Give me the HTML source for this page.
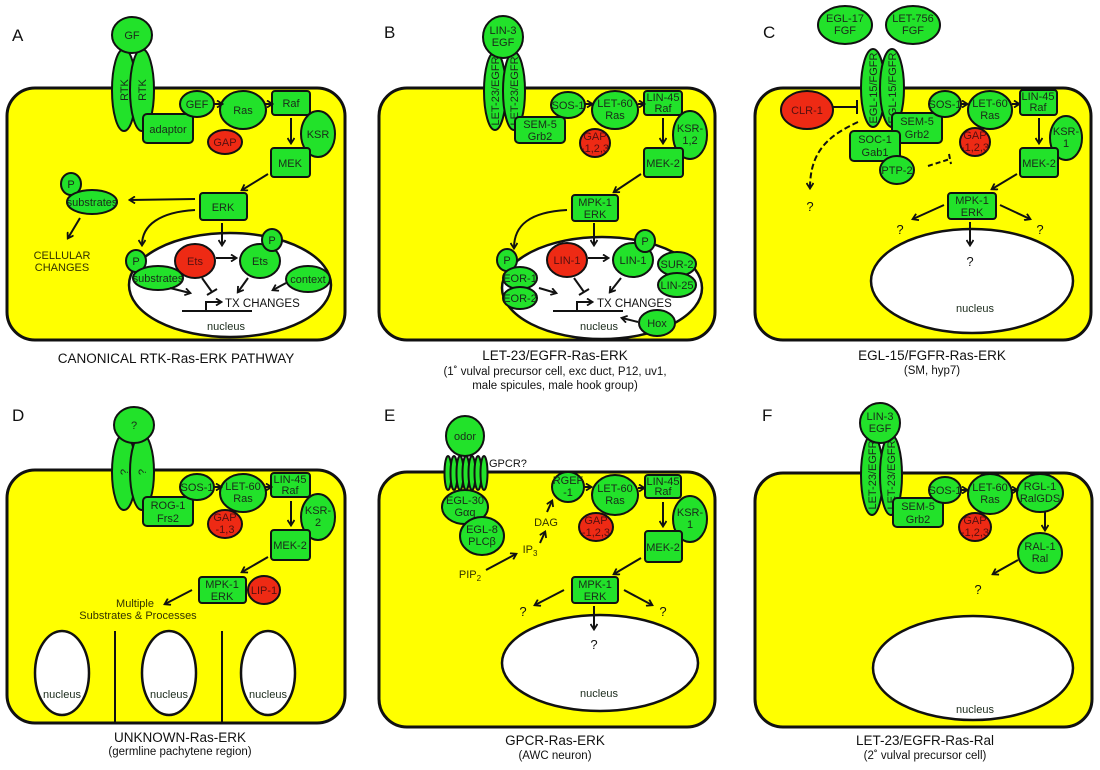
<!DOCTYPE html>
<html><head><meta charset="utf-8"><style>
html,body{margin:0;padding:0;background:#fff}
svg{display:block;font-family:"Liberation Sans",Arial,sans-serif}
.cell{fill:#ffff00;stroke:#111;stroke-width:3}
.g{fill:#22e22a;stroke:#111;stroke-width:2}
.r{fill:#ee2a14;stroke:#111;stroke-width:2}
.n{fill:#fff;stroke:#111;stroke-width:2.5}
.t{font-size:11px;fill:#1a2a1a;text-anchor:middle}
.tr{font-size:11px;fill:#551010;text-anchor:middle}
.ti{font-size:13.5px;fill:#111;text-anchor:middle}
.st{font-size:11.5px;fill:#111;text-anchor:middle}
.pl{font-size:17px;fill:#111}
.q{font-size:13px;fill:#111;text-anchor:middle}
.y{font-size:11px;fill:#333300;text-anchor:middle}
.a{fill:none;stroke:#111;stroke-width:2;marker-end:url(#ah)}
.i{fill:none;stroke:#111;stroke-width:2}
</style></head><body>
<svg width="1100" height="770" viewBox="0 0 1100 770">
<defs><marker id="ah" markerWidth="8" markerHeight="8" refX="6" refY="4" orient="auto" markerUnits="userSpaceOnUse"><path d="M1,0.5 L6.5,4 L1,7.5" fill="none" stroke="#111" stroke-width="1.8"/></marker></defs>

<!-- PANEL A -->
<g>
<text x="12" y="41" class="pl">A</text>
<rect x="7" y="88" width="338" height="252" rx="28" class="cell"/>
<ellipse cx="124" cy="90" rx="12" ry="41" class="g"/><text transform="translate(128,90) rotate(-90)" class="t">RTK</text>
<ellipse cx="142" cy="90" rx="12" ry="41" class="g"/><text transform="translate(146,90) rotate(-90)" class="t">RTK</text>
<ellipse cx="132" cy="35" rx="20" ry="18" class="g"/><text x="132" y="39" class="t">GF</text>
<rect x="143" y="114" width="50" height="29" rx="4" class="g"/><text x="168" y="133" class="t">adaptor</text>
<ellipse cx="197" cy="104" rx="17" ry="13" class="g"/><text x="197" y="108" class="t">GEF</text>
<ellipse cx="243" cy="110" rx="23" ry="19" class="g"/><text x="243" y="114" class="t">Ras</text>
<ellipse cx="225" cy="142" rx="17" ry="12" class="r"/><text x="225" y="146" class="tr">GAP</text>
<rect x="272" y="91" width="38" height="24" rx="3" class="g"/><text x="291" y="107" class="t">Raf</text>
<ellipse cx="318" cy="134" rx="17" ry="23" class="g"/><text x="318" y="138" class="t">KSR</text>
<rect x="271" y="148" width="39" height="29" rx="3" class="g"/><text x="290" y="167" class="t">MEK</text>
<rect x="200" y="193" width="47" height="27" rx="3" class="g"/><text x="223" y="211" class="t">ERK</text>
<path d="M213,104 L222,104" class="a"/><path d="M265,104 L272,104" class="a"/><path d="M291,118 L291,143" class="a"/><path d="M268,174 L242,190" class="a"/>
<path d="M195,199 L130,200" class="a"/>
<ellipse cx="71" cy="184" rx="10" ry="11" class="g"/><text x="71" y="188" class="t">P</text>
<ellipse cx="92" cy="202" rx="25" ry="12" class="g"/><text x="92" y="206" class="t">substrates</text>
<path d="M80,218 L68,238" class="a"/>
<text x="62" y="259" class="y">CELLULAR</text><text x="62" y="271" class="y">CHANGES</text>
<ellipse cx="230" cy="285" rx="101" ry="52" class="n"/>
<path d="M195,210 C160,212 142,225 142,245" class="a"/><path d="M222,223 L222,245" class="a"/>
<ellipse cx="136" cy="261" rx="10" ry="11" class="g"/><text x="136" y="265" class="t">P</text>
<ellipse cx="158" cy="278" rx="25" ry="12" class="g"/><text x="158" y="282" class="t">substrates</text>
<ellipse cx="195" cy="261" rx="20" ry="17" class="r"/><text x="195" y="265" class="tr">Ets</text>
<ellipse cx="260" cy="261" rx="20" ry="17" class="g"/><text x="260" y="265" class="t">Ets</text>
<ellipse cx="272" cy="240" rx="10" ry="11" class="g"/><text x="272" y="244" class="t">P</text>
<ellipse cx="308" cy="279" rx="22" ry="13" class="g"/><text x="308" y="283" class="t">context</text>
<path d="M216,258 L236,258" class="a"/><path d="M170,288 L190,293" class="a"/><path d="M202,278 L212,292 M207,295 L217,289" class="i"/><path d="M248,278 L238,292" class="a"/><path d="M286,283 L273,290" class="a"/>
<path d="M182,311 L252,311 M206,311 L206,302 L220,302" class="i"/><path d="M214,302 L221,302" class="a"/>
<text x="225" y="307" font-size="11.5" fill="#111">TX CHANGES</text>
<text x="226" y="330" class="t" fill="#111">nucleus</text>
<text x="176" y="363" class="ti">CANONICAL RTK-Ras-ERK PATHWAY</text>
</g>

<!-- PANEL B -->
<g>
<text x="384" y="38" class="pl">B</text>
<rect x="379" y="88" width="336" height="252" rx="28" class="cell"/>
<ellipse cx="495" cy="91" rx="11" ry="39" class="g"/><text transform="translate(499,91) rotate(-90)" class="t" font-size="10">LET-23/EGFR</text>
<ellipse cx="514" cy="91" rx="11" ry="39" class="g"/><text transform="translate(518,91) rotate(-90)" class="t" font-size="10">LET-23/EGFR</text>
<ellipse cx="503" cy="37" rx="20" ry="21" class="g"/><text x="503" y="34" class="t">LIN-3</text><text x="503" y="46" class="t">EGF</text>
<rect x="515" y="117" width="50" height="26" rx="4" class="g"/><text x="540" y="128" class="t">SEM-5</text><text x="540" y="140" class="t">Grb2</text>
<ellipse cx="568" cy="105" rx="17" ry="13" class="g"/><text x="568" y="109" class="t">SOS-1</text>
<ellipse cx="615" cy="110" rx="23" ry="19" class="g"/><text x="615" y="107" class="t">LET-60</text><text x="615" y="119" class="t">Ras</text>
<ellipse cx="595" cy="143" rx="15" ry="14" class="r"/><text x="595" y="140" class="tr">GAP</text><text x="595" y="152" class="tr">-1,2,3</text>
<rect x="644" y="91" width="38" height="24" rx="3" class="g"/><text x="663" y="101" class="t">LIN-45</text><text x="663" y="112" class="t">Raf</text>
<ellipse cx="690" cy="135" rx="17" ry="24" class="g"/><text x="690" y="132" class="t">KSR-</text><text x="690" y="144" class="t">1,2</text>
<rect x="644" y="148" width="39" height="29" rx="3" class="g"/><text x="663" y="167" class="t">MEK-2</text>
<rect x="572" y="195" width="46" height="26" rx="3" class="g"/><text x="595" y="206" class="t">MPK-1</text><text x="595" y="218" class="t">ERK</text>
<path d="M585,104 L592,104" class="a"/><path d="M638,104 L644,104" class="a"/><path d="M663,118 L663,143" class="a"/><path d="M641,174 L614,192" class="a"/>
<ellipse cx="602" cy="288" rx="100" ry="51" class="n"/>
<path d="M567,210 C530,212 514,225 514,248" class="a"/><path d="M594,223 L594,245" class="a"/>
<ellipse cx="507" cy="260" rx="10" ry="11" class="g"/><text x="507" y="264" class="t">P</text>
<ellipse cx="520" cy="278" rx="17" ry="11" class="g"/><text x="520" y="282" class="t">EOR-1</text>
<ellipse cx="520" cy="298" rx="17" ry="11" class="g"/><text x="520" y="302" class="t">EOR-2</text>
<ellipse cx="567" cy="260" rx="20" ry="17" class="r"/><text x="567" y="264" class="tr">LIN-1</text>
<ellipse cx="633" cy="260" rx="20" ry="17" class="g"/><text x="633" y="264" class="t">LIN-1</text>
<ellipse cx="645" cy="241" rx="10" ry="11" class="g"/><text x="645" y="245" class="t">P</text>
<ellipse cx="677" cy="264" rx="19" ry="12" class="g"/><text x="677" y="268" class="t">SUR-2</text>
<ellipse cx="677" cy="285" rx="19" ry="12" class="g"/><text x="677" y="289" class="t">LIN-25</text>
<ellipse cx="657" cy="323" rx="18" ry="13" class="g"/><text x="657" y="327" class="t">Hox</text>
<path d="M588,258 L608,258" class="a"/><path d="M539,288 L556,293" class="a"/><path d="M574,278 L584,292 M579,295 L589,289" class="i"/><path d="M621,278 L610,292" class="a"/><path d="M638,322 L622,318" class="a"/>
<path d="M553,311 L623,311 M577,311 L577,302 L591,302" class="i"/><path d="M585,302 L592,302" class="a"/>
<text x="597" y="307" font-size="11.5" fill="#111">TX CHANGES</text>
<text x="599" y="330" class="t" fill="#111">nucleus</text>
<text x="555" y="360" class="ti">LET-23/EGFR-Ras-ERK</text>
<text x="555" y="375" class="st">(1˚ vulval precursor cell, exc duct, P12, uv1,</text>
<text x="555" y="389" class="st">male spicules, male hook group)</text>
</g>

<!-- PANEL C -->
<g>
<text x="763" y="38" class="pl">C</text>
<rect x="755" y="88" width="336" height="252" rx="28" class="cell"/>
<ellipse cx="845" cy="25" rx="27" ry="19" class="g"/><text x="845" y="22" class="t">EGL-17</text><text x="845" y="34" class="t">FGF</text>
<ellipse cx="913" cy="25" rx="27" ry="19" class="g"/><text x="913" y="22" class="t">LET-756</text><text x="913" y="34" class="t">FGF</text>
<ellipse cx="873" cy="88" rx="12" ry="39" class="g"/><text transform="translate(877,88) rotate(-90)" class="t" font-size="10">EGL-15/FGFR</text>
<ellipse cx="892" cy="88" rx="12" ry="39" class="g"/><text transform="translate(896,88) rotate(-90)" class="t" font-size="10">EGL-15/FGFR</text>
<ellipse cx="807" cy="110" rx="26" ry="19" class="r"/><text x="807" y="114" class="tr">CLR-1</text>
<path d="M833,107 L857,107 M857,100 L857,114" class="i"/>
<rect x="892" y="113" width="50" height="30" rx="4" class="g"/><text x="917" y="125" class="t">SEM-5</text><text x="917" y="138" class="t">Grb2</text>
<rect x="850" y="131" width="50" height="30" rx="4" class="g"/><text x="875" y="143" class="t">SOC-1</text><text x="875" y="156" class="t">Gab1</text>
<ellipse cx="897" cy="170" rx="17" ry="14" class="g"/><text x="897" y="174" class="t">PTP-2</text>
<path d="M928,166 L950,159 M949,154 L951,164" class="i" stroke-dasharray="5,3"/>
<path d="M858,122 C830,135 810,150 810,188" class="a" stroke-dasharray="6,3"/>
<text x="810" y="211" class="q">?</text>
<ellipse cx="945" cy="104" rx="16" ry="13" class="g"/><text x="945" y="108" class="t">SOS-1</text>
<ellipse cx="990" cy="110" rx="22" ry="19" class="g"/><text x="990" y="107" class="t">LET-60</text><text x="990" y="119" class="t">Ras</text>
<ellipse cx="975" cy="142" rx="15" ry="14" class="r"/><text x="975" y="139" class="tr">GAP</text><text x="975" y="151" class="tr">-1,2,3</text>
<rect x="1020" y="90" width="37" height="25" rx="3" class="g"/><text x="1038" y="100" class="t">LIN-45</text><text x="1038" y="111" class="t">Raf</text>
<ellipse cx="1066" cy="138" rx="16" ry="22" class="g"/><text x="1066" y="135" class="t">KSR-</text><text x="1066" y="147" class="t">1</text>
<rect x="1020" y="148" width="38" height="29" rx="3" class="g"/><text x="1039" y="167" class="t">MEK-2</text>
<rect x="948" y="193" width="48" height="26" rx="3" class="g"/><text x="972" y="204" class="t">MPK-1</text><text x="972" y="216" class="t">ERK</text>
<path d="M961,104 L967,104" class="a"/><path d="M1012,104 L1019,104" class="a"/><path d="M1039,118 L1039,143" class="a"/><path d="M1017,174 L992,189" class="a"/>
<ellipse cx="972" cy="281" rx="101" ry="52" class="n"/>
<path d="M944,205 L913,219" class="a"/><path d="M1000,205 L1030,219" class="a"/><path d="M970,222 L970,245" class="a"/>
<text x="900" y="234" class="q">?</text><text x="1040" y="234" class="q">?</text><text x="970" y="266" class="q">?</text>
<text x="975" y="312" class="t" fill="#111">nucleus</text>
<text x="932" y="360" class="ti">EGL-15/FGFR-Ras-ERK</text>
<text x="932" y="374" class="st">(SM, hyp7)</text>
</g>

<!-- PANEL D -->
<g>
<text x="12" y="421" class="pl">D</text>
<rect x="7" y="470" width="338" height="253" rx="28" class="cell"/>
<ellipse cx="124" cy="472" rx="12" ry="38" class="g"/><text transform="translate(128,472) rotate(-90)" class="t">?</text>
<ellipse cx="142" cy="472" rx="12" ry="38" class="g"/><text transform="translate(146,472) rotate(-90)" class="t">?</text>
<ellipse cx="134" cy="425" rx="20" ry="18" class="g"/><text x="134" y="429" class="t">?</text>
<rect x="143" y="497" width="50" height="29" rx="4" class="g"/><text x="168" y="509" class="t">ROG-1</text><text x="168" y="522" class="t">Frs2</text>
<ellipse cx="197" cy="487" rx="17" ry="13" class="g"/><text x="197" y="491" class="t">SOS-1</text>
<ellipse cx="243" cy="493" rx="23" ry="19" class="g"/><text x="243" y="490" class="t">LET-60</text><text x="243" y="502" class="t">Ras</text>
<ellipse cx="225" cy="524" rx="17" ry="14" class="r"/><text x="225" y="521" class="tr">GAP</text><text x="225" y="533" class="tr">-1,3</text>
<rect x="271" y="473" width="39" height="24" rx="3" class="g"/><text x="290" y="483" class="t">LIN-45</text><text x="290" y="494" class="t">Raf</text>
<ellipse cx="318" cy="517" rx="17" ry="23" class="g"/><text x="318" y="514" class="t">KSR-</text><text x="318" y="526" class="t">2</text>
<rect x="271" y="530" width="39" height="30" rx="3" class="g"/><text x="290" y="549" class="t">MEK-2</text>
<rect x="199" y="577" width="47" height="26" rx="3" class="g"/><text x="222" y="588" class="t">MPK-1</text><text x="222" y="600" class="t">ERK</text>
<ellipse cx="264" cy="590" rx="16" ry="14" class="r"/><text x="264" y="594" class="tr">LIP-1</text>
<path d="M214,487 L221,487" class="a"/><path d="M265,487 L271,487" class="a"/><path d="M291,501 L291,525" class="a"/><path d="M268,557 L242,572" class="a"/><path d="M192,590 L165,604" class="a"/>
<text x="135" y="607" class="y">Multiple</text><text x="138" y="619" class="y">Substrates &amp; Processes</text>
<path d="M115,631 L115,723 M222,631 L222,723" class="i"/>
<ellipse cx="62" cy="673" rx="27" ry="42" class="n"/><text x="62" y="698" class="t" fill="#111">nucleus</text>
<ellipse cx="169" cy="673" rx="27" ry="42" class="n"/><text x="169" y="698" class="t" fill="#111">nucleus</text>
<ellipse cx="268" cy="673" rx="27" ry="42" class="n"/><text x="268" y="698" class="t" fill="#111">nucleus</text>
<text x="180" y="742" class="ti">UNKNOWN-Ras-ERK</text>
<text x="180" y="755" class="st">(germline pachytene region)</text>
</g>

<!-- PANEL E -->
<g>
<text x="384" y="421" class="pl">E</text>
<rect x="379" y="472" width="336" height="255" rx="28" class="cell"/>
<ellipse cx="465" cy="436" rx="19" ry="20" class="g"/><text x="465" y="440" class="t">odor</text>
<g>
<ellipse cx="448" cy="473" rx="3.5" ry="17" class="g" stroke-width="1.5"/><ellipse cx="454" cy="473" rx="3.5" ry="17" class="g" stroke-width="1.5"/><ellipse cx="460" cy="473" rx="3.5" ry="17" class="g" stroke-width="1.5"/><ellipse cx="466" cy="473" rx="3.5" ry="17" class="g" stroke-width="1.5"/><ellipse cx="472" cy="473" rx="3.5" ry="17" class="g" stroke-width="1.5"/><ellipse cx="478" cy="473" rx="3.5" ry="17" class="g" stroke-width="1.5"/><ellipse cx="484" cy="473" rx="3.5" ry="17" class="g" stroke-width="1.5"/>
</g>
<text x="489" y="467" font-size="11" fill="#111">GPCR?</text>
<ellipse cx="465" cy="507" rx="23" ry="17" class="g"/><text x="465" y="504" class="t">EGL-30</text><text x="465" y="516" class="t">Gαq</text>
<ellipse cx="482" cy="536" rx="22" ry="19" class="g"/><text x="482" y="533" class="t">EGL-8</text><text x="482" y="545" class="t">PLCβ</text>
<text x="470" y="578" class="y">PIP<tspan font-size="8" dy="3">2</tspan></text>
<path d="M486,570 L516,554" class="a"/>
<text x="530" y="553" class="y">IP<tspan font-size="8" dy="3">3</tspan></text>
<path d="M540,543 L545,532" class="a"/>
<text x="546" y="526" class="y">DAG</text>
<path d="M547,512 L552,501" class="a"/>
<ellipse cx="568" cy="487" rx="16" ry="15" class="g"/><text x="568" y="484" class="t">RGEF</text><text x="568" y="496" class="t">-1</text>
<ellipse cx="615" cy="495" rx="23" ry="20" class="g"/><text x="615" y="492" class="t">LET-60</text><text x="615" y="504" class="t">Ras</text>
<ellipse cx="596" cy="527" rx="17" ry="14" class="r"/><text x="596" y="524" class="tr">GAP</text><text x="596" y="536" class="tr">-1,2,3</text>
<rect x="645" y="475" width="36" height="23" rx="3" class="g"/><text x="663" y="485" class="t">LIN-45</text><text x="663" y="495" class="t">Raf</text>
<ellipse cx="690" cy="519" rx="17" ry="23" class="g"/><text x="690" y="516" class="t">KSR-</text><text x="690" y="528" class="t">1</text>
<rect x="645" y="531" width="37" height="31" rx="3" class="g"/><text x="663" y="551" class="t">MEK-2</text>
<rect x="572" y="577" width="46" height="26" rx="3" class="g"/><text x="595" y="588" class="t">MPK-1</text><text x="595" y="600" class="t">ERK</text>
<path d="M584,487 L591,487" class="a"/><path d="M638,488 L644,488" class="a"/><path d="M663,502 L663,526" class="a"/><path d="M641,558 L614,574" class="a"/>
<ellipse cx="600" cy="663" rx="98" ry="48" class="n"/>
<path d="M564,590 L535,605" class="a"/><path d="M624,590 L652,605" class="a"/><path d="M594,606 L594,629" class="a"/>
<text x="523" y="616" class="q">?</text><text x="663" y="616" class="q">?</text><text x="594" y="649" class="q">?</text>
<text x="599" y="697" class="t" fill="#111">nucleus</text>
<text x="555" y="745" class="ti">GPCR-Ras-ERK</text>
<text x="555" y="759" class="st">(AWC neuron)</text>
</g>

<!-- PANEL F -->
<g>
<text x="762" y="421" class="pl">F</text>
<rect x="755" y="473" width="337" height="254" rx="28" class="cell"/>
<ellipse cx="872" cy="475" rx="11" ry="40" class="g"/><text transform="translate(876,475) rotate(-90)" class="t" font-size="10">LET-23/EGFR</text>
<ellipse cx="891" cy="475" rx="11" ry="40" class="g"/><text transform="translate(895,475) rotate(-90)" class="t" font-size="10">LET-23/EGFR</text>
<ellipse cx="880" cy="423" rx="20" ry="20" class="g"/><text x="880" y="420" class="t">LIN-3</text><text x="880" y="432" class="t">EGF</text>
<rect x="893" y="498" width="50" height="29" rx="4" class="g"/><text x="918" y="510" class="t">SEM-5</text><text x="918" y="523" class="t">Grb2</text>
<ellipse cx="945" cy="490" rx="16" ry="13" class="g"/><text x="945" y="494" class="t">SOS-1</text>
<ellipse cx="990" cy="494" rx="22" ry="20" class="g"/><text x="990" y="491" class="t">LET-60</text><text x="990" y="503" class="t">Ras</text>
<ellipse cx="975" cy="527" rx="16" ry="14" class="r"/><text x="975" y="524" class="tr">GAP</text><text x="975" y="536" class="tr">-1,2,3</text>
<ellipse cx="1040" cy="493" rx="23" ry="19" class="g"/><text x="1040" y="490" class="t">RGL-1</text><text x="1040" y="502" class="t">RalGDS</text>
<ellipse cx="1040" cy="553" rx="22" ry="20" class="g"/><text x="1040" y="550" class="t">RAL-1</text><text x="1040" y="562" class="t">Ral</text>
<path d="M961,490 L967,490" class="a"/><path d="M1012,490 L1017,490" class="a"/><path d="M1045,512 L1045,530" class="a"/><path d="M1018,560 L993,574" class="a"/>
<text x="978" y="594" class="q">?</text>
<ellipse cx="973" cy="668" rx="100" ry="52" class="n"/>
<text x="975" y="713" class="t" fill="#111">nucleus</text>
<text x="925" y="745" class="ti">LET-23/EGFR-Ras-Ral</text>
<text x="925" y="759" class="st">(2˚ vulval precursor cell)</text>
</g>
</svg>
</body></html>
